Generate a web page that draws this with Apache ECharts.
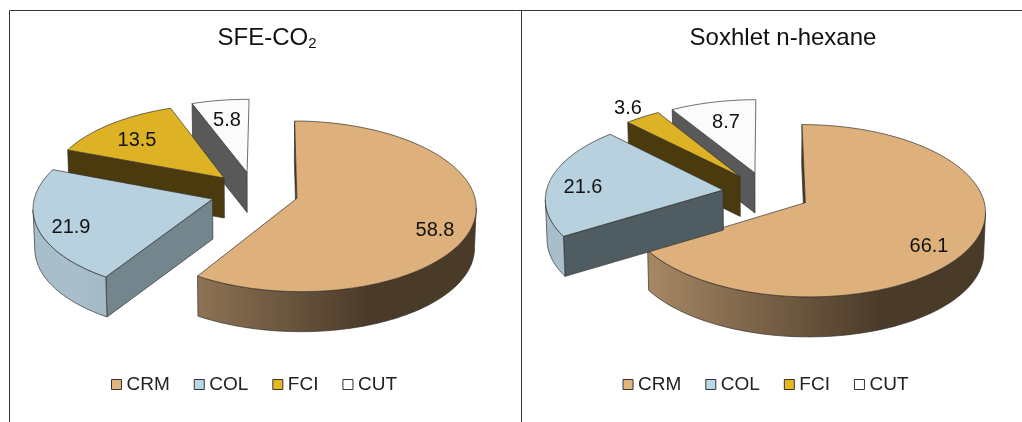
<!DOCTYPE html>
<html>
<head>
<meta charset="utf-8">
<style>html,body{margin:0;padding:0;background:#fff}#chart{width:1022px;height:422px}</style>
<script src="https://cdn.jsdelivr.net/npm/echarts@6/dist/echarts.min.js"></script>
</head>
<body>
<div id="chart"></div>
<script>
// Fatty acid class composition by extraction method (% of total)
const categories = ['CRM', 'COL', 'FCI', 'CUT'];
const sfeValues = [58.8, 21.9, 13.5, 5.8];
const soxhletValues = [66.1, 21.6, 3.6, 8.7];
const panelTitles = ['SFE-CO{sub|2}', 'Soxhlet n-hexane'];

const topColors = ['#DDB07C', '#B7D2DE', '#DEB225', '#FBFBFB'];
const swatchColors = ['#E2B47E', '#B9D8E6', '#E6B81F', '#FFFFFF'];
// light-to-dark shading of the curved rim, per slice
const rimColors = [['#BF9C74', '#4A3A28'], ['#A8BECB', '#80939D'], ['#6E5A1A', '#4A3A0E'], ['#777777', '#555555']];

// Tilted-disc projection shared by both pies
const RX = 177, RY = 83.5, PERSPECTIVE = 0.0928, DEPTH = 40, EXPLODE = 0.248;

const panels = [
  { values: sfeValues, cx: 254.5, cy: 192.5, rotate: 0.5,
    walls: ['#4A3A28', '#73868E', '#4A3A0E', '#595959'],
    labels: [[435, 230], [71, 227], [137, 140], [227, 120]] },
  { values: soxhletValues, cx: 766.5, cy: 192.5, rotate: 0,
    walls: ['#4A3A28', '#4F5C62', '#4A3A0E', '#595959'],
    labels: [[929, 246], [583, 187], [628, 108], [726, 122]] }
];
// back-to-front painting order of the slices
const paintOrder = [3, 2, 0, 1];

function project(panel, X, Y, raised) {
  const w = 1 + PERSPECTIVE * Y;
  const sx = RX * X / w, sy = -RY * Y / w;
  return raised
    ? [panel.cx + sx, panel.cy + sy]
    : [panel.cx + sx * 0.992, panel.cy + sy + DEPTH];
}

function sliceRenderer(panel, index) {
  return function (params, api) {
    const value = api.value(0);
    const total = panel.values.reduce((a, b) => a + b, 0);
    const before = panel.values.slice(0, index).reduce((a, b) => a + b, 0);
    const a0 = (before / total) * 2 * Math.PI + panel.rotate * Math.PI / 180;
    const a1 = a0 + (value / total) * 2 * Math.PI;
    const mid = (a0 + a1) / 2;
    const ox = EXPLODE * Math.sin(mid), oy = EXPLODE * Math.cos(mid);

    const steps = Math.max(8, Math.ceil((a1 - a0) * 40));
    const arc = [];
    for (let i = 0; i <= steps; i++) {
      const t = a0 + (a1 - a0) * i / steps;
      arc.push([ox + Math.sin(t), oy + Math.cos(t)]);
    }
    const top = p => project(panel, p[0], p[1], true);
    const low = p => project(panel, p[0], p[1], false);
    const tip = [ox, oy];
    const line = { stroke: '#33302c', lineWidth: 0.7, lineJoin: 'round' };
    const children = [];

    const quad = (a, b, fill) => children.push({
      type: 'polygon',
      shape: { points: [top(a), top(b), low(b), low(a)] },
      style: Object.assign({ fill }, line)
    });
    const faces = (a, b) => top(b)[0] < top(a)[0];

    // flat side walls, where they turn towards the viewer
    if (faces(tip, arc[0])) quad(tip, arc[0], panel.walls[index]);
    if (top(tip)[0] - top(arc[steps])[0] < -4) quad(arc[steps], tip, panel.walls[index]);

    // curved rim, split into its front-facing runs
    const rimFill = {
      type: 'linear', global: true,
      x: panel.cx - 180, y: 0, x2: panel.cx + 115, y2: 0,
      colorStops: [{ offset: 0, color: rimColors[index][0] }, { offset: 1, color: rimColors[index][1] }]
    };
    let run = [];
    const flush = () => {
      if (run.length > 1) {
        children.push({
          type: 'polygon',
          shape: { points: run.map(top).concat(run.slice().reverse().map(low)) },
          style: Object.assign({ fill: rimFill }, line)
        });
      }
      run = [];
    };
    for (let i = 0; i < steps; i++) {
      if (faces(arc[i], arc[i + 1])) {
        if (!run.length) run.push(arc[i]);
        run.push(arc[i + 1]);
      } else flush();
    }
    flush();

    // upper face of the slice
    children.push({
      type: 'polygon',
      shape: { points: [top(tip)].concat(arc.map(top)) },
      style: Object.assign({ fill: topColors[index] }, line)
    });
    return { type: 'group', children };
  };
}

const series = [];
const valueTexts = [];
panels.forEach(panel => {
  paintOrder.forEach(index => {
    series.push({
      type: 'custom',
      name: categories[index],
      coordinateSystem: 'none',
      silent: true,
      itemStyle: { color: swatchColors[index] },
      data: [[panel.values[index]]],
      renderItem: sliceRenderer(panel, index)
    });
    valueTexts.push({
      type: 'text', z: 50, silent: true,
      x: panel.labels[index][0], y: panel.labels[index][1],
      style: { text: panel.values[index].toFixed(1), fill: '#111', align: 'center', verticalAlign: 'middle',
               font: '20px "Liberation Sans", Arial, sans-serif' }
    });
  });
});

const legendAt = [106, 617.5];
const frameLines = [
  [[9.5, 10.5], [1022, 10.5]],
  [[9.5, 10.5], [9.5, 422]],
  [[521.5, 10.5], [521.5, 422]]
];

const chart = echarts.init(document.getElementById('chart'), null, { renderer: 'canvas' });
chart.setOption({
  animation: false,
  backgroundColor: '#fff',
  textStyle: { fontFamily: '"Liberation Sans", Arial, sans-serif' },
  title: panelTitles.map((text, i) => ({
    text,
    left: i === 0 ? 262 : 778,
    top: 19,
    textAlign: 'center',
    textStyle: {
      fontSize: 24, fontWeight: 'normal', color: '#111', lineHeight: 28,
      fontFamily: '"Liberation Sans", Arial, sans-serif',
      rich: { sub: { fontSize: 15, lineHeight: 15, padding: [11, 0, 0, 0], color: '#111',
                     fontFamily: '"Liberation Sans", Arial, sans-serif' } }
    }
  })),
  legend: legendAt.map(left => ({
    left, top: 370,
    orient: 'horizontal',
    selectedMode: false,
    itemWidth: 10, itemHeight: 10, itemGap: 24,
    textStyle: { fontSize: 19, color: '#222', fontFamily: '"Liberation Sans", Arial, sans-serif' },
    data: categories.map((name, i) => ({
      name, icon: 'rect',
      itemStyle: { color: swatchColors[i], borderColor: '#333', borderWidth: 1 }
    }))
  })),
  graphic: frameLines.map(([a, b]) => ({
    type: 'line', silent: true,
    shape: { x1: a[0], y1: a[1], x2: b[0], y2: b[1] },
    style: { stroke: '#333', lineWidth: 1 }
  })).concat(valueTexts),
  series
});
</script>
</body>
</html>
